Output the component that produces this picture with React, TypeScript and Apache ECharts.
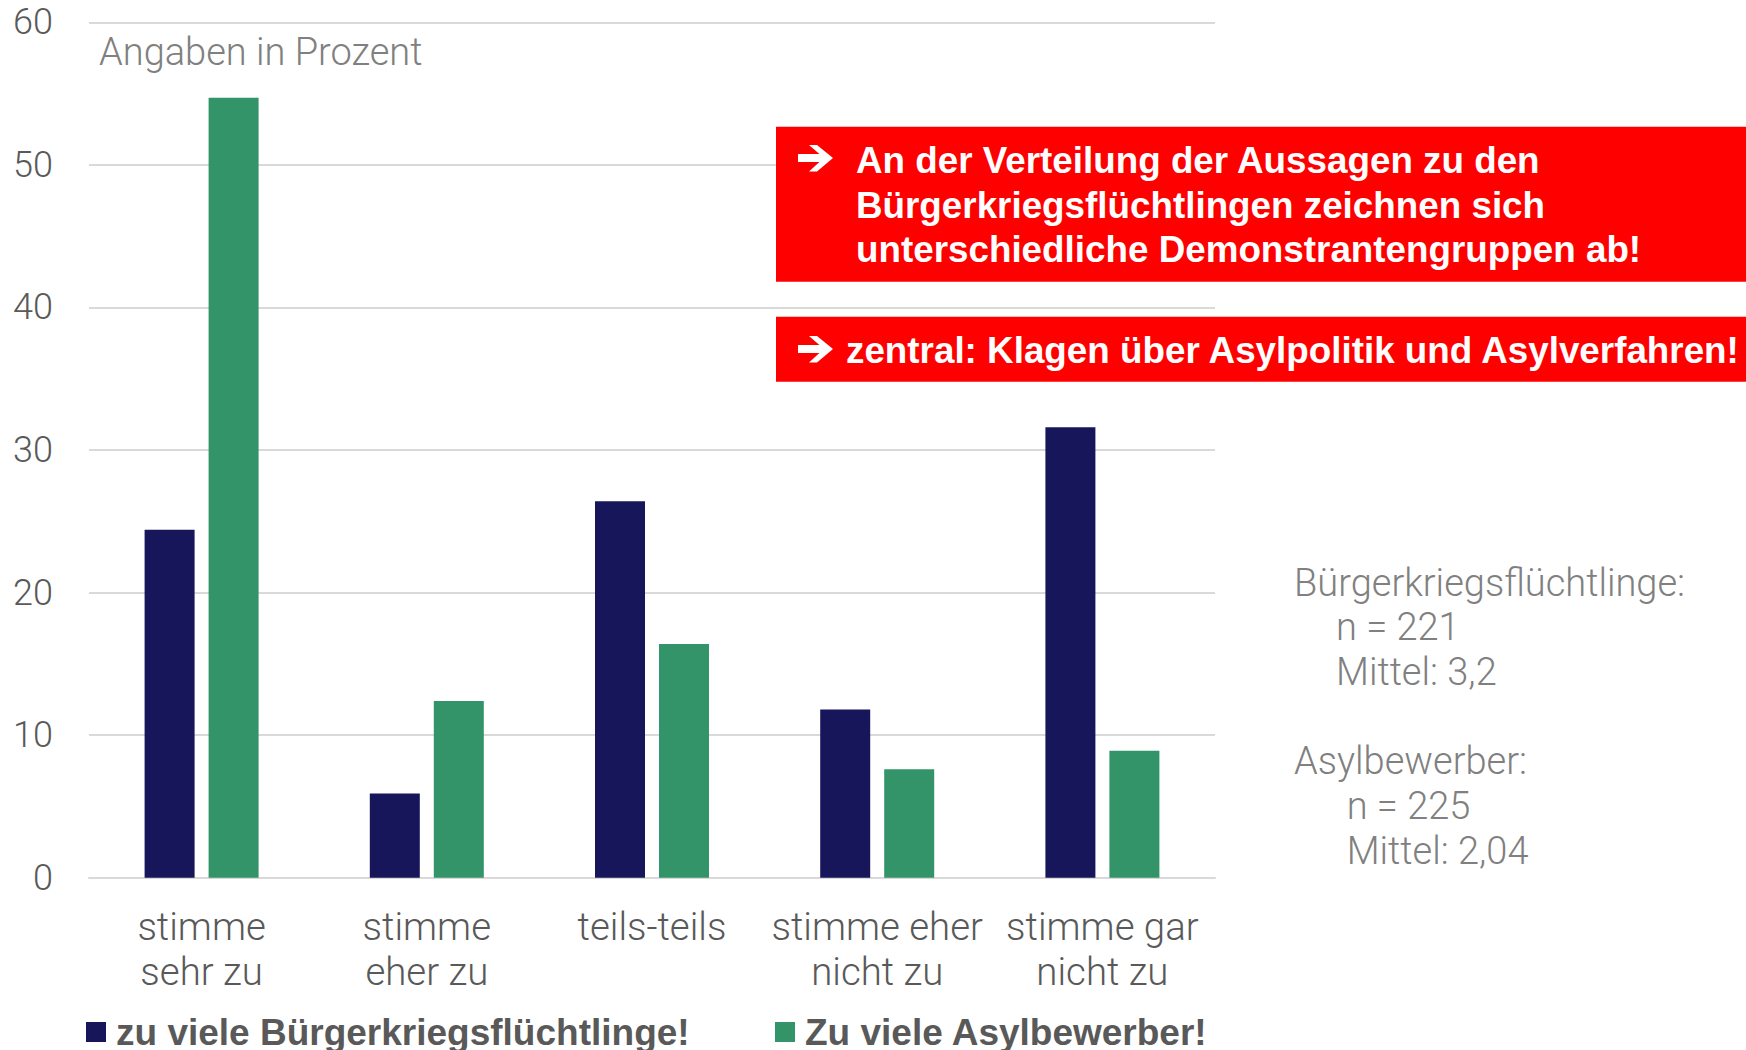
import React, { useEffect, useRef } from "react";
import * as echarts from "echarts";

const categories = [
  "stimme\nsehr zu",
  "stimme\neher zu",
  "teils-teils",
  "stimme eher\nnicht zu",
  "stimme gar\nnicht zu",
];
const seriesNames = ["zu viele Bürgerkriegsflüchtlinge!", "Zu viele Asylbewerber!"];
const buergerkriegsfluechtlinge = [24.4, 5.9, 26.4, 11.8, 31.6];
const asylbewerber = [54.7, 12.4, 16.4, 7.6, 8.9];
const yMin = 0;
const yMax = 60;
const yInterval = 10;
const unitNote = "Angaben in Prozent";
const box1Lines = [
  "An der Verteilung der Aussagen zu den",
  "Bürgerkriegsflüchtlingen zeichnen sich",
  "unterschiedliche Demonstrantengruppen ab!",
];
const box2Line = "zentral: Klagen über Asylpolitik und Asylverfahren!";
const statsBK = ["Bürgerkriegsflüchtlinge:", "n = 221", "Mittel: 3,2"];
const statsAB = ["Asylbewerber:", "n = 225", "Mittel: 2,04"];

const NAVY = "#17165a";
const GREEN = "#33946a";
const RED = "#ff0000";
const GRID = "#d9d9d9";
const DARK = "#595959";
const LIGHT = "#808080";
const LIGHT_FONT = "Roboto";
const BOLD_FONT = "'Liberation Sans', Arial, sans-serif";

function arrow(x0: number, yc: number) {
  const pts = [
    [0, -4],
    [21.4, -4],
    [11, -13],
    [19, -13],
    [35, 0],
    [19, 13.5],
    [11, 13.5],
    [21.4, 4],
    [0, 4],
  ].map(([dx, dy]) => [x0 + dx, yc + dy]);
  return { type: "polygon", shape: { points: pts }, style: { fill: "#ffffff" }, z: 20 };
}

function txt(text: string, x: number, y: number, o: any) {
  return {
    type: "text",
    x,
    y,
    z: 20,
    style: {
      text,
      align: "left",
      verticalAlign: "middle",
      ...o,
    },
  };
}

export default function App() {
  const ref = useRef<HTMLDivElement>(null);
  useEffect(() => {
    document.body.style.margin = "0";
    const chart = echarts.init(ref.current!, undefined, { renderer: "svg" });
    const lightStyle = { fontFamily: LIGHT_FONT, fontWeight: 300 };
    const boldWhite = { fontFamily: BOLD_FONT, fontWeight: "bold", fontSize: 36.8, fill: "#ffffff" };
    const graphic: any[] = [
      txt(unitNote, 99, 52, { ...lightStyle, fontSize: 38, fill: LIGHT }),
      { type: "rect", shape: { x: 776, y: 126.7, width: 970, height: 155 }, style: { fill: RED }, z: 10 },
      { type: "rect", shape: { x: 776, y: 316.7, width: 970, height: 65 }, style: { fill: RED }, z: 10 },
      arrow(798, 158),
      arrow(798, 349),
      ...box1Lines.map((l, i) => txt(l, 856, 160.4 + i * 44.7, boldWhite)),
      txt(box2Line, 846, 350, boldWhite),
      txt(statsBK[0], 1294, 583, { ...lightStyle, fontSize: 38, fill: LIGHT }),
      txt(statsBK[1], 1336, 627, { ...lightStyle, fontSize: 38, fill: LIGHT }),
      txt(statsBK[2], 1336, 672, { ...lightStyle, fontSize: 38, fill: LIGHT }),
      txt(statsAB[0], 1294, 761, { ...lightStyle, fontSize: 38, fill: LIGHT }),
      txt(statsAB[1], 1346.7, 806, { ...lightStyle, fontSize: 38, fill: LIGHT }),
      txt(statsAB[2], 1346.7, 851, { ...lightStyle, fontSize: 38, fill: LIGHT }),
    ];
    const legendBase = {
      orient: "horizontal",
      top: 1012,
      padding: 0,
      itemWidth: 20,
      itemHeight: 20,
      icon: "rect",
      selectedMode: false,
      textStyle: {
        fontFamily: BOLD_FONT,
        fontWeight: "bold",
        fontSize: 37,
        color: DARK,
        padding: [0, 0, 0, 5],
        lineHeight: 40,
      },
    };
    chart.setOption({
      animation: false,
      backgroundColor: "#ffffff",
      grid: { left: 89, right: 531, top: 22.3, bottom: 172.3, containLabel: false, outerBoundsMode: "none" },
      legend: [
        { ...legendBase, left: 86, data: [seriesNames[0]] },
        { ...legendBase, left: 775, data: [seriesNames[1]] },
      ],
      xAxis: {
        type: "category",
        data: categories,
        axisLine: { show: true, lineStyle: { color: GRID, width: 2 } },
        axisTick: { show: false },
        axisLabel: {
          interval: 0,
          margin: 26,
          color: DARK,
          fontFamily: LIGHT_FONT,
          fontWeight: 300,
          fontSize: 38.4,
          lineHeight: 45,
        },
      },
      yAxis: {
        type: "value",
        min: yMin,
        max: yMax,
        interval: yInterval,
        axisLine: { show: false },
        axisTick: { show: false },
        splitLine: { show: true, lineStyle: { color: GRID, width: 2 } },
        axisLabel: {
          margin: 36,
          color: DARK,
          fontFamily: LIGHT_FONT,
          fontWeight: 300,
          fontSize: 36,
        },
      },
      series: [
        {
          name: seriesNames[0],
          type: "bar",
          data: buergerkriegsfluechtlinge,
          barWidth: 50,
          barGap: "28%",
          itemStyle: { color: NAVY },
        },
        {
          name: seriesNames[1],
          type: "bar",
          data: asylbewerber,
          barWidth: 50,
          barGap: "28%",
          itemStyle: { color: GREEN },
        },
      ],
      graphic,
    });
    return () => chart.dispose();
  }, []);
  return <div ref={ref} style={{ position: "fixed", left: 0, top: 0, width: 1746, height: 1050 }} />;
}
